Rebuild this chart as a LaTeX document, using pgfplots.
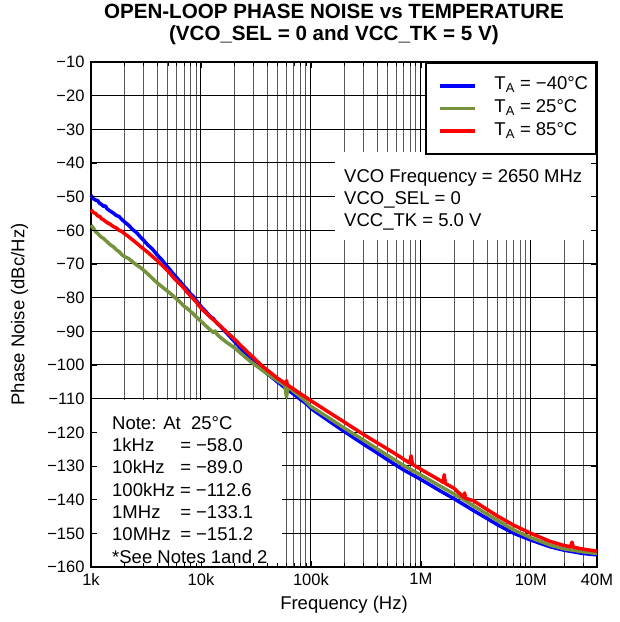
\documentclass[border=0pt]{standalone}
\usepackage{pgfplots}
\pgfplotsset{compat=1.18}
\usepackage{fontspec}
\setmainfont{Liberation Sans}
\definecolor{tiblue}{RGB}{0,0,255}
\definecolor{tigreen}{RGB}{118,146,60}
\definecolor{tired}{RGB}{255,0,0}
\newcommand{\txt}{\fontsize{18.5}{22}\selectfont}
\newcommand{\minorx}{2e3,3e3,4e3,5e3,6e3,7e3,8e3,9e3,2e4,3e4,4e4,5e4,6e4,7e4,8e4,9e4,2e5,3e5,4e5,5e5,6e5,7e5,8e5,9e5,2e6,3e6,4e6,5e6,6e6,7e6,8e6,9e6,2e7,3e7}

\pgfplotstableread{
f v
1000 -49.6
1050 -50.6
1100 -51.0
1150 -51.2
1200 -52.0
1250 -52.3
1300 -52.9
1350 -52.7
1400 -53.6
1500 -54.3
1600 -54.9
1700 -55.6
1800 -55.9
1900 -56.7
2000 -57.4
2200 -58.5
2400 -59.8
2600 -60.7
2800 -61.9
3000 -62.9
3300 -64.4
3600 -65.5
4000 -67.3
4400 -68.7
4800 -70.3
5200 -71.6
5600 -72.9
6000 -74.0
6500 -75.3
7000 -76.6
7500 -77.6
8000 -78.8
8500 -79.6
9000 -80.7
10000 -82.6
11000 -84.0
12000 -85.4
13000 -86.3
14000 -87.6
15000 -88.5
17000 -90.4
20000 -92.9
23000 -95.1
26000 -96.9
30000 -99.0
35000 -100.9
40000 -102.6
45000 -103.9
50000 -105.1
60000 -107.1
70000 -108.7
80000 -110.2
90000 -111.4
100000 -112.9
150000 -116.9
200000 -119.7
300000 -123.5
400000 -126.1
500000 -128.2
700000 -131.2
1000000 -134.0
1500000 -137.4
2000000 -139.7
3000000 -143.2
4000000 -145.6
5000000 -147.5
7000000 -150.0
10000000 -152.0
15000000 -154.0
20000000 -155.0
30000000 -156.0
40000000 -156.4
}\blue

\pgfplotstableread{
f v
1000 -58.5
1050 -59.3
1100 -60.4
1150 -60.9
1200 -61.6
1250 -62.1
1300 -62.4
1400 -63.4
1500 -64.3
1600 -64.9
1700 -65.8
1800 -66.3
1900 -67.2
2000 -67.7
2200 -68.4
2400 -69.4
2600 -70.3
2800 -71.0
3000 -71.8
3300 -73.0
3600 -74.2
4000 -75.6
4400 -76.7
4800 -77.7
5200 -78.6
5600 -79.5
6000 -80.4
6500 -81.4
7000 -82.5
7500 -83.2
8000 -84.0
8500 -84.8
9000 -85.6
10000 -87.0
11000 -88.3
12000 -89.4
13000 -90.4
13500 -89.9
14000 -90.9
15000 -91.8
17000 -93.2
20000 -94.8
23000 -96.5
26000 -98.0
30000 -99.6
35000 -101.2
40000 -102.6
45000 -103.7
50000 -104.7
55000 -105.6
58000 -106.1
60000 -109.6
61500 -106.6
65000 -107.0
70000 -107.9
80000 -109.4
90000 -110.8
100000 -112.3
150000 -116.0
200000 -118.7
300000 -122.3
400000 -124.9
500000 -126.9
700000 -129.9
1000000 -132.7
1500000 -136.0
2000000 -138.3
3000000 -141.8
4000000 -144.3
5000000 -146.2
7000000 -149.0
10000000 -151.3
15000000 -153.5
20000000 -154.6
30000000 -155.5
40000000 -156.0
}\green

\pgfplotstableread{
f v
1000 -53.9
1050 -54.7
1100 -55.0
1150 -55.7
1200 -55.9
1250 -56.6
1300 -56.9
1400 -57.7
1500 -58.2
1600 -58.9
1700 -59.3
1800 -60.0
1900 -60.3
2000 -60.9
2200 -61.9
2400 -62.9
2600 -63.8
2800 -64.7
3000 -65.5
3300 -66.6
3600 -67.7
4000 -69.0
4400 -70.3
4800 -71.5
5200 -72.7
5600 -74.0
6000 -75.0
6500 -76.1
7000 -77.2
7500 -78.4
8000 -79.4
8500 -80.3
9000 -81.2
10000 -83.1
11000 -84.4
12000 -85.6
13000 -86.6
14000 -87.5
15000 -88.4
17000 -90.1
20000 -92.2
23000 -94.2
26000 -95.9
30000 -97.8
35000 -99.9
40000 -101.5
45000 -102.8
50000 -104.0
55000 -104.9
59000 -105.7
60000 -104.6
61000 -105.9
70000 -107.2
80000 -108.5
90000 -109.6
100000 -110.6
150000 -114.3
200000 -116.9
300000 -120.6
400000 -123.1
500000 -125.0
600000 -126.6
700000 -128.0
790000 -129.1
815000 -127.0
840000 -129.5
1000000 -131.0
1500000 -134.3
1600000 -134.9
1630000 -132.6
1670000 -135.2
2000000 -136.6
2450000 -139.3
2500000 -138.0
2550000 -139.6
3000000 -140.3
4000000 -142.9
5000000 -144.9
7000000 -147.6
10000000 -150.0
15000000 -152.4
20000000 -153.6
23000000 -154.0
23700000 -152.6
24300000 -154.1
30000000 -154.7
40000000 -155.3
}\red

\begin{document}
\begin{tikzpicture}
\begin{axis}[
  clip=false,
  scale only axis, width=506pt, height=505pt,
  xmode=log, xmin=1000, xmax=4e7, ymin=-160, ymax=-10,
  xtick={1e3,1e4,1e5,1e6,1e7,4e7},
  xticklabels={1k,10k,100k,1M,10M,40M},
  minor xtick/.expanded={\minorx},
  ytick={-160,-150,...,-10},
  yticklabels={−160,−150,−140,−130,−120,−110,−100,−90,−80,−70,−60,−50,−40,−30,−20,−10},
  grid=both,
  major grid style={black, line width=1pt},
  minor grid style={black!65, line width=0.8pt},
  axis line style={line width=1.8pt},
  tick style={black, line width=0.7pt},
  major tick length=6pt, minor tick length=4pt, tick align=inside,
  tick label style={font=\fontsize{16.5}{19}\selectfont},
  yticklabel style={xshift=-3pt},
  xticklabel style={yshift=-3pt},
  xlabel={Frequency (Hz)}, ylabel={Phase Noise (dBc/Hz)},
  every axis x label/.style={at={(rel axis cs:0.5,-0.074)}, anchor=center, font=\txt},
  every axis y label/.style={at={(rel axis cs:-0.141,0.5)}, anchor=center, rotate=90, font=\txt},
  legend cell align=left,
  legend style={at={(rel axis cs:1,1)}, anchor=north east, draw=black, line width=1.8pt,
    fill=white, font=\txt, inner xsep=6pt, inner ysep=11.5pt, row sep=0pt,
    nodes={inner sep=2pt, text height=13.5pt, text depth=5.2pt},
    /tikz/every odd column/.append style={column sep=16pt}},
  legend image code/.code={\path (0pt,0pt); \draw[#1, line width=3.6pt] (6pt,0pt) -- (41pt,0pt);},
]
\addplot[tiblue, line width=3.5pt, line join=round] table[x=f, y=v] {\blue};
\addlegendentry{T\textsubscript{A} = −40°C}
\addplot[tigreen, line width=3.5pt, line join=round] table[x=f, y=v] {\green};
\addlegendentry{T\textsubscript{A} = 25°C}
\addplot[tired, line width=3.5pt, line join=round] table[x=f, y=v] {\red};
\addlegendentry{T\textsubscript{A} = 85°C}

% white boxes hiding the grid behind the texts
\fill[white] ([shift={(0.9pt,0.9pt)}]rel axis cs:0,0) rectangle (rel axis cs:0.3775,0.330);
\fill[white] (rel axis cs:0.482,0.6475) rectangle ([xshift=-0.9pt]rel axis cs:1,0.8218);

\node[anchor=base, inner sep=0pt, font=\fontsize{20.6}{24}\bfseries] at ([yshift=43pt]rel axis cs:0.48,1) {OPEN-LOOP PHASE NOISE vs TEMPERATURE};
\node[anchor=base, inner sep=0pt, font=\fontsize{20.6}{24}\bfseries] at ([yshift=21pt]rel axis cs:0.48,1) {(VCO\_SEL = 0 and VCC\_TK = 5 V)};

\begin{scope}[every node/.style={anchor=base west, inner sep=0pt, font=\txt}]
\node at (rel axis cs:0.5,0.7614) {VCO Frequency = 2650 MHz};
\node at (rel axis cs:0.5,0.7172) {VCO\_SEL = 0};
\node at (rel axis cs:0.5,0.6743) {VCC\_TK = 5.0 V};

\node at (rel axis cs:0.0415,0.2727) {Note: At\ \ 25°C};
\node at (rel axis cs:0.0415,0.2283) {1kHz};
\node at (rel axis cs:0.176,0.2283) {= −58.0};
\node at (rel axis cs:0.0415,0.1842) {10kHz};
\node at (rel axis cs:0.176,0.1842) {= −89.0};
\node at (rel axis cs:0.0415,0.1392) {100kHz = −112.6};
\node at (rel axis cs:0.0415,0.0956) {1MHz};
\node at (rel axis cs:0.176,0.0956) {= −133.1};
\node at (rel axis cs:0.0415,0.0515) {10MHz};
\node at (rel axis cs:0.176,0.0515) {= −151.2};
\node at (rel axis cs:0.0415,0.0073) {*See Notes 1and 2};
\end{scope}
\end{axis}
% second frame: tick marks only, drawn over the white boxes
\begin{axis}[
  scale only axis, width=506pt, height=505pt,
  xmode=log, xmin=1000, xmax=4e7, ymin=-160, ymax=-10,
  xtick={1e3,1e4,1e5,1e6,1e7,4e7},
  minor xtick/.expanded={\minorx},
  xtick pos=bottom,
  ytick={-160,-150,...,-40}, ytick pos=both,
  xticklabels={}, yticklabels={},
  tick style={black, line width=0.7pt},
  major tick length=6pt, minor tick length=4pt, tick align=inside,
  axis line style={draw=none},
]
\end{axis}
\pgfresetboundingbox
\path[use as bounding box] ([shift={(-91pt,-55pt)}]current axis.south west) rectangle ([shift={(22pt,62pt)}]current axis.north east);
\end{tikzpicture}
\end{document}
